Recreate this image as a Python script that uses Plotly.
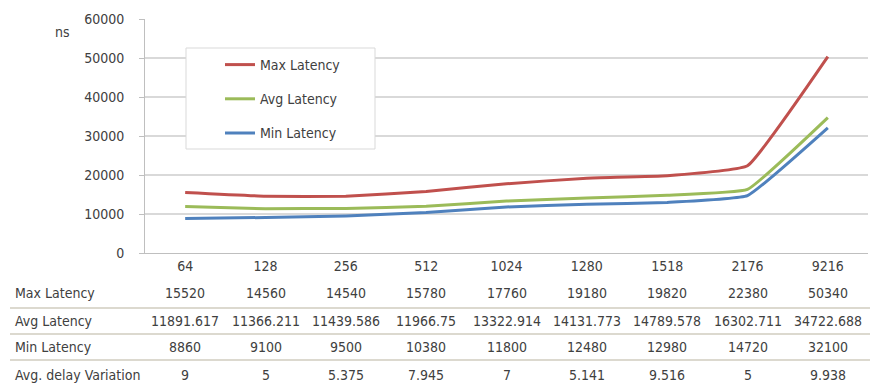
import plotly.graph_objects as go

# Frame sizes (bytes) and measured latencies (ns)
frame_sizes = ["64", "128", "256", "512", "1024", "1280", "1518", "2176", "9216"]
max_latency = [15520, 14560, 14540, 15780, 17760, 19180, 19820, 22380, 50340]
avg_latency = [11891.617, 11366.211, 11439.586, 11966.75, 13322.914,
               14131.773, 14789.578, 16302.711, 34722.688]
min_latency = [8860, 9100, 9500, 10380, 11800, 12480, 12980, 14720, 32100]
avg_delay_variation = [9, 5, 5.375, 7.945, 7, 5.141, 9.516, 5, 9.938]

series = [
    ("Max Latency", max_latency, "#C0504D"),
    ("Avg Latency", avg_latency, "#9BBB59"),
    ("Min Latency", min_latency, "#4F81BD"),
]
table_rows = [
    ("Max Latency", max_latency),
    ("Avg Latency", avg_latency),
    ("Min Latency", min_latency),
    ("Avg. delay Variation", avg_delay_variation),
]

W, H = 874, 386
L, R, T, B = 145, 868, 19, 253
FONT = "'Liberation Sans Narrow', 'DejaVu Sans Condensed', 'Roboto Condensed', 'Arial Narrow', 'Liberation Sans', sans-serif"
FS = 14
TXT = "#404040"
pos = list(range(len(frame_sizes)))


def px_x(p):
    return (p - L) / (R - L)


def px_y(p):
    return (B - p) / (B - T)


def fmt(v):
    s = "%.3f" % v
    return s.rstrip("0").rstrip(".")


fig = go.Figure()
for name, vals, color in series:
    fig.add_trace(go.Scatter(
        x=pos, y=vals, name=name, mode="lines",
        line=dict(color=color, width=3, shape="spline", smoothing=0.3),
        legendgroup=name,
    ))

annotations = [dict(text="ns", xref="paper", yref="paper", x=px_x(62), y=px_y(32),
                    xanchor="center", yanchor="middle", showarrow=False,
                    font=dict(family=FONT, size=FS, color=TXT))]
row_y = [293, 321, 347, 375]
for (label, vals), yp in zip(table_rows, row_y):
    annotations.append(dict(text=label, xref="paper", yref="paper", x=px_x(13),
                            y=px_y(yp), xanchor="left", yanchor="middle", showarrow=False,
                            font=dict(family=FONT, size=FS, color=TXT)))
    for i, v in zip(pos, vals):
        annotations.append(dict(text=fmt(v), xref="x", yref="paper", x=i,
                                y=px_y(yp), xanchor="center", yanchor="middle",
                                showarrow=False,
                                font=dict(family=FONT, size=FS, color=TXT)))

shapes = []
for yp in [308, 334, 360]:
    shapes.append(dict(type="line", xref="paper", yref="paper",
                       x0=px_x(10), x1=px_x(870), y0=px_y(yp), y1=px_y(yp),
                       line=dict(color="#DCD9CF", width=2)))
# legend frame
shapes.append(dict(type="rect", xref="paper", yref="paper",
                   x0=px_x(186), x1=px_x(375), y0=px_y(48), y1=px_y(149),
                   line=dict(color="#D9D9D9", width=1), fillcolor="white", layer="above"))

fig.update_layout(
    width=W, height=H,
    margin=dict(l=L, r=W - R, t=T, b=H - B),
    paper_bgcolor="white", plot_bgcolor="white",
    font=dict(family=FONT, size=FS, color=TXT),
    showlegend=True,
    legend=dict(x=px_x(220), y=px_y(49), xanchor="left", yanchor="top",
                bgcolor="rgba(0,0,0,0)", borderwidth=0, tracegroupgap=13,
                traceorder="grouped", font=dict(family=FONT, size=FS, color=TXT)),
    xaxis=dict(range=[-0.5, len(frame_sizes) - 0.5], tickvals=pos, ticktext=frame_sizes,
               showgrid=False, showline=True, linecolor="#BFBFBF", zeroline=False,
               linewidth=1, ticks="", tickfont=dict(family=FONT, size=FS, color=TXT)),
    yaxis=dict(range=[0, 60000], dtick=10000, tickformat="d", showgrid=True,
               gridcolor="#D9D9D9", gridwidth=2, showline=True, linecolor="#BFBFBF",
               linewidth=1, ticks="outside", ticklen=5, tickcolor="#BFBFBF",
               ticklabelstandoff=12, zeroline=False,
               tickfont=dict(family=FONT, size=FS, color=TXT)),
    annotations=annotations, shapes=shapes,
)

fig.write_html("out.html")
